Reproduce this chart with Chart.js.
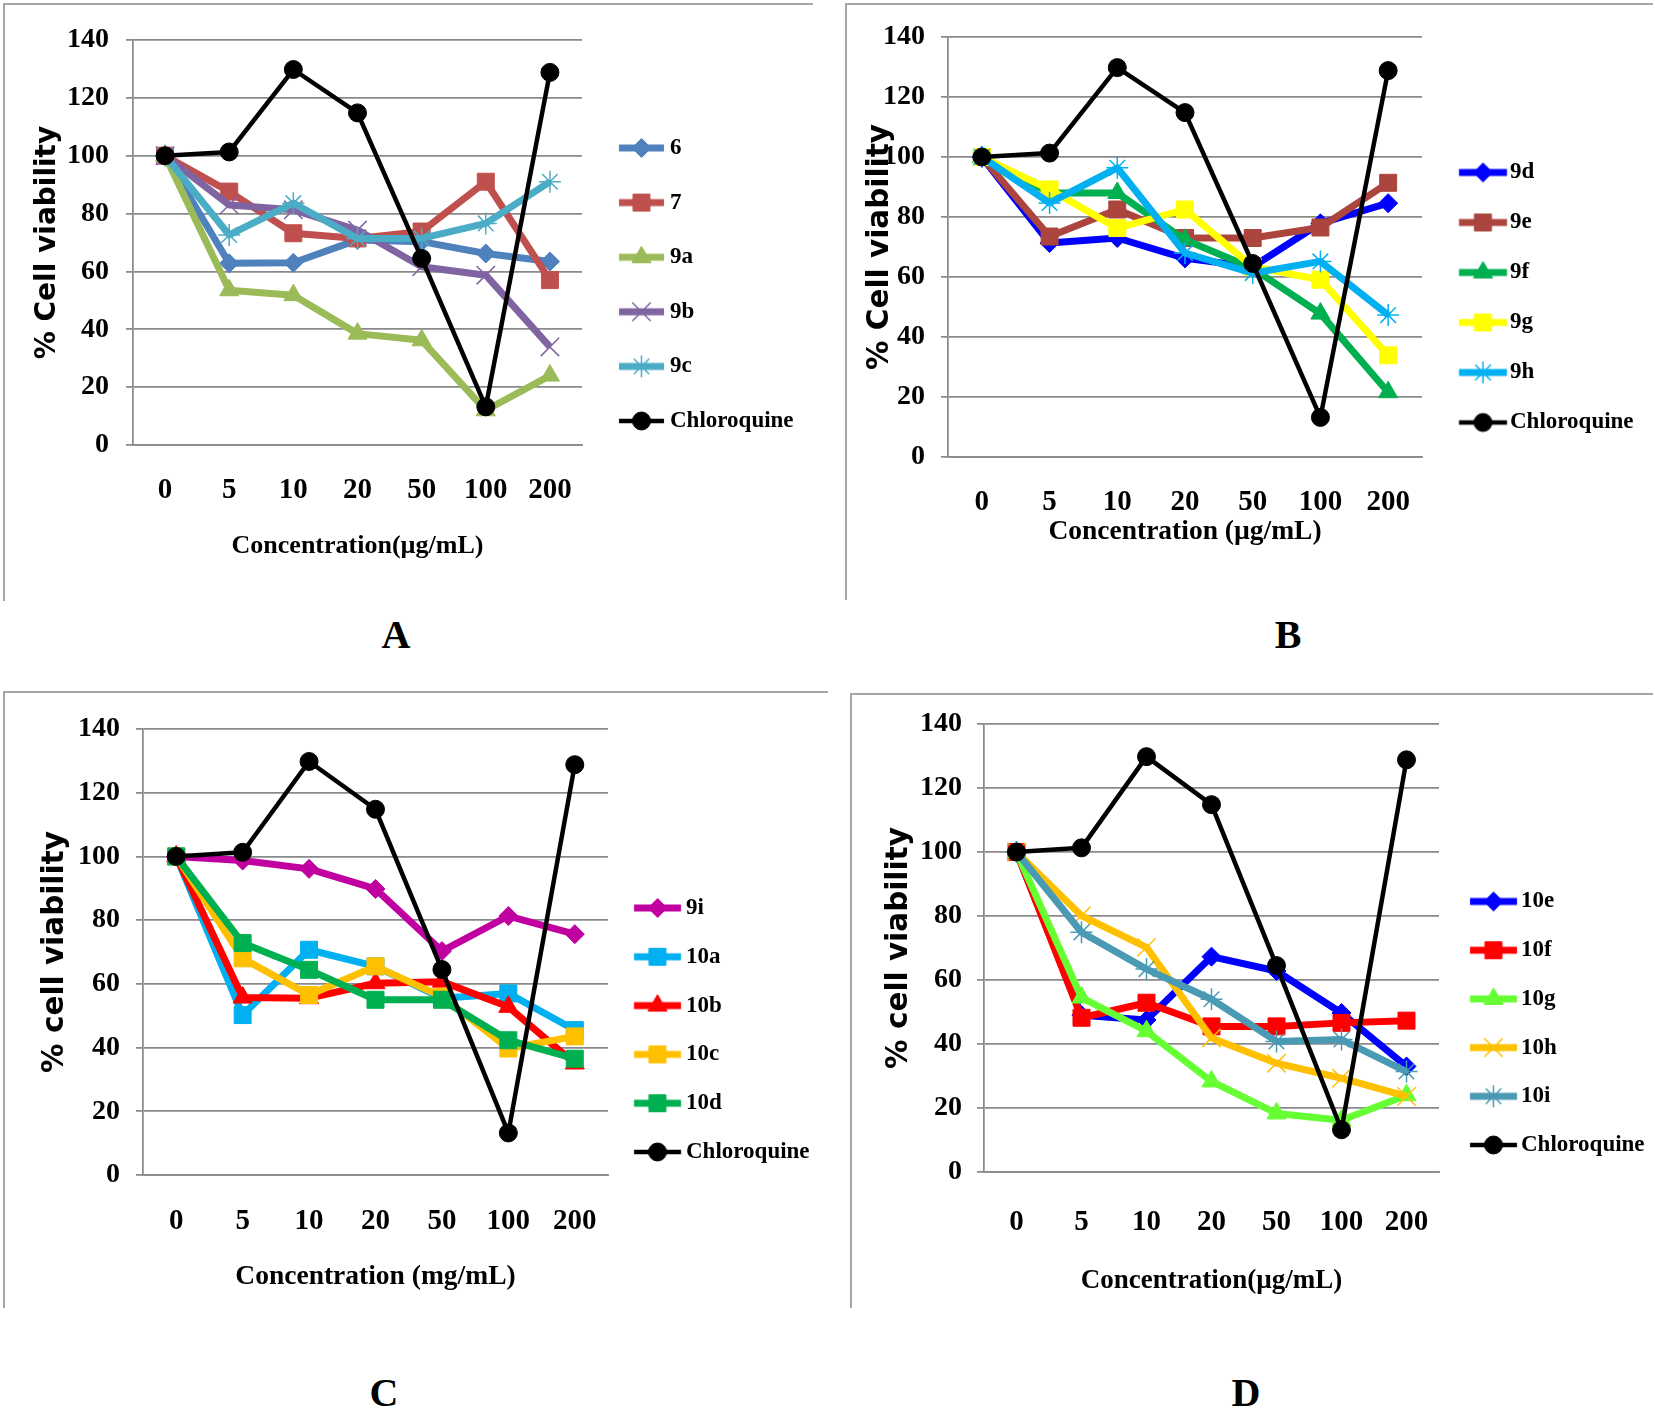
<!DOCTYPE html>
<html>
<head>
<meta charset="utf-8">
<script src="https://cdn.jsdelivr.net/npm/chart.js@4.4.1/dist/chart.umd.min.js"></script>
<style>
    html, body { margin: 0; padding: 0; background: #fff; }
    #page { position: relative; width: 1655px; height: 1410px; overflow: hidden; background: #fff; }
    .frame { position: absolute; border-top: 2px solid #a6a6a6; border-left: 2px solid #a6a6a6; }
    canvas { position: absolute; }
    .letter { position: absolute; width: 80px; margin-left: -40px; margin-top: -22px; text-align: center;
              font: bold 40px "Liberation Serif", "Times New Roman", serif; line-height: 44px; color: #000; }
</style>
</head>
<body>
<div id="page"></div>
<script>
// categories and y ticks shared by all four panels
const concentrations = ['0', '5', '10', '20', '50', '100', '200'];
const viabilityTicks = [0, 20, 40, 60, 80, 100, 120, 140];

// reference drug, same curve in every panel
const chloroquine = [100, 101.3, 129.8, 114.8, 64.5, 13.2, 128.8];

// panel A
const c6 = [100, 62.8, 63, 70.9, 70.3, 66.2, 63.4];
const c7 = [100, 87.6, 73.2, 71.4, 73.8, 91, 57];
const c9a = [100, 53.5, 51.8, 38.5, 36.2, 12, 24];
const c9b = [100, 83, 81.3, 74.3, 61.6, 58.7, 33.9];
const c9c = [100, 72.6, 83.6, 71.4, 71.4, 76.6, 91];

// panel B
const c9d = [100, 71.3, 73, 66.2, 63.4, 77.9, 84.6];
const c9e = [100, 73.5, 82.5, 73, 73, 76.5, 91.4];
const c9f = [100, 88, 88, 72.4, 62.9, 47.8, 21.6];
const c9g = [100, 89.2, 76.3, 82.5, 63.4, 59.1, 33.9];
const c9h = [100, 84.7, 96.4, 68, 61.3, 65.2, 47.3];

// panel C
const c9i = [100, 98.7, 96.1, 89.8, 70.3, 81.3, 75.6];
const c10a = [100, 50.2, 70.7, 65.5, 55.5, 57, 45.5];
const c10b = [100, 55.7, 55.5, 60.2, 60.7, 52.8, 35];
const c10c = [100, 68, 56.5, 65.5, 56, 39.7, 43.5];
const c10d = [100, 72.8, 64.4, 55, 55, 42.3, 36.5];

// panel D
const c10e = [100, 49, 47.5, 67.3, 62.8, 49.7, 33];
const c10f = [100, 48.2, 52.9, 45.5, 45.5, 46.6, 47.3];
const c10g = [100, 54.5, 44, 28.3, 18.3, 16.2, 24];
const c10h = [100, 80.1, 70.2, 41.9, 34, 29.3, 23.6];
const c10i = [100, 74.9, 63.4, 54, 40.8, 41.4, 31.4];

const SERIF = '"Liberation Serif", "Times New Roman", serif';
const SANS = '"DejaVu Sans", "Liberation Sans", sans-serif';
const GRID = '#8a8a8a';
const MARKER_R = { rectRot: 9.5, rect: 12, triangle: 11, crossRot: 13, star: 11, circle: 9 };
const THIN = ['crossRot', 'star'];
const LEGEND_FONT = 23;

const panels = [
    {
        letter: 'A', letterPos: { x: 396, y: 635 },
        series: [
            ['6', c6, '#4F81BD', 'rectRot'],
            ['7', c7, '#C0504D', 'rect'],
            ['9a', c9a, '#9BBB59', 'triangle'],
            ['9b', c9b, '#8064A2', 'crossRot'],
            ['9c', c9c, '#4BACC6', 'star'],
            ['Chloroquine', chloroquine, '#000000', 'circle']
        ],
        xTitle: 'Concentration(µg/mL)', xTitleSize: 26,
        yTitle: '% Cell viability', yTitleSize: 28,
        frame: { x: 4, y: 4, w: 808, h: 596 }, canvasW: 826,
        plot: { left: 133, right: 582, top: 40, bottom: 445 },
        yTickRight: 109, yTitleX: 48, xTickY: 491, xTitleY: 546,
        legend: { firstY: 148, step: 54.6, symL: 619, symR: 664, textX: 670 }
    },
    {
        letter: 'B', letterPos: { x: 1288, y: 635 },
        series: [
            ['9d', c9d, '#0000FF', 'rectRot'],
            ['9e', c9e, '#AD453F', 'rect'],
            ['9f', c9f, '#00B050', 'triangle'],
            ['9g', c9g, '#FFFF00', 'rect'],
            ['9h', c9h, '#00B0F0', 'star'],
            ['Chloroquine', chloroquine, '#000000', 'circle']
        ],
        xTitle: 'Concentration (µg/mL)', xTitleSize: 27.5,
        yTitle: '% Cell viability', yTitleSize: 29.5,
        frame: { x: 846, y: 4, w: 806, h: 595 }, canvasW: 809,
        plot: { left: 948, right: 1422, top: 37, bottom: 457 },
        yTickRight: 925, yTitleX: 880, xTickY: 503, xTitleY: 532,
        legend: { firstY: 172.5, step: 50, symL: 1459, symR: 1507, textX: 1510 }
    },
    {
        letter: 'C', letterPos: { x: 384, y: 1393 },
        series: [
            ['9i', c9i, '#C000A0', 'rectRot'],
            ['10a', c10a, '#00B0F0', 'rect'],
            ['10b', c10b, '#FF0000', 'triangle'],
            ['10c', c10c, '#FFC000', 'rect'],
            ['10d', c10d, '#00B050', 'rect'],
            ['Chloroquine', chloroquine, '#000000', 'circle']
        ],
        xTitle: 'Concentration (mg/mL)', xTitleSize: 27.5,
        yTitle: '% cell viability', yTitleSize: 29.5,
        frame: { x: 4, y: 692, w: 823, h: 615 }, canvasW: 830,
        plot: { left: 143, right: 608, top: 729, bottom: 1175 },
        yTickRight: 120, yTitleX: 55, xTickY: 1222, xTitleY: 1277,
        legend: { firstY: 908, step: 48.8, symL: 634, symR: 681, textX: 686 }
    },
    {
        letter: 'D', letterPos: { x: 1246, y: 1393 },
        series: [
            ['10e', c10e, '#0000FF', 'rectRot'],
            ['10f', c10f, '#FF0000', 'rect'],
            ['10g', c10g, '#66FF33', 'triangle'],
            ['10h', c10h, '#FFC000', 'crossRot'],
            ['10i', c10i, '#4A9AB4', 'star'],
            ['Chloroquine', chloroquine, '#000000', 'circle']
        ],
        xTitle: 'Concentration(µg/mL)', xTitleSize: 27,
        yTitle: '% cell viability', yTitleSize: 29.5,
        frame: { x: 851, y: 694, w: 801, h: 613 }, canvasW: 804,
        plot: { left: 984, right: 1439, top: 724, bottom: 1172 },
        yTickRight: 962, yTitleX: 899, xTickY: 1223, xTitleY: 1281,
        legend: { firstY: 901.5, step: 48.7, symL: 1470, symR: 1517, textX: 1521 }
    }
];

const page = document.getElementById('page');
const measureCtx = document.createElement('canvas').getContext('2d');

function lineWidthFor (label) {
    return label === 'Chloroquine' ? 4.5 : 7;
}

// legend symbol: short thick line with the marker in the middle, like the spreadsheet legend
function makeIcon (label, color, marker, halfW, lineFrom, lineTo) {
    const c = document.createElement('canvas');
    c.width = halfW * 2;
    c.height = 32;
    const ctx = c.getContext('2d');
    ctx.strokeStyle = color;
    ctx.fillStyle = color;
    ctx.lineWidth = lineWidthFor(label);
    ctx.beginPath();
    ctx.moveTo(lineFrom, 16);
    ctx.lineTo(lineTo, 16);
    ctx.stroke();

    const thin = THIN.includes(marker);
    ctx.lineWidth = thin ? 1.5 : 1;
    const mid = (lineFrom + lineTo) / 2;
    if (Chart.helpers && Chart.helpers.drawPoint) {
        Chart.helpers.drawPoint(ctx, { pointStyle: marker, radius: MARKER_R[marker], rotation: 0, borderWidth: ctx.lineWidth }, mid, 16);
    } else {
        ctx.beginPath();
        ctx.arc(mid, 16, 8, 0, Math.PI * 2);
        ctx.fill();
    }
    return c;
}

function drawPanel (p) {
    const f = p.frame;
    const a = p.plot;
    const lg = p.legend;

    const frame = document.createElement('div');
    frame.className = 'frame';
    Object.assign(frame.style, { left: (f.x - 1) + 'px', top: (f.y - 1) + 'px', width: f.w + 'px', height: f.h + 'px' });
    page.appendChild(frame);

    const letter = document.createElement('div');
    letter.className = 'letter';
    letter.textContent = p.letter;
    Object.assign(letter.style, { left: p.letterPos.x + 'px', top: p.letterPos.y + 'px' });
    page.appendChild(letter);

    const canvas = document.createElement('canvas');
    canvas.width = p.canvasW;
    canvas.height = f.h;
    Object.assign(canvas.style, { left: f.x + 'px', top: f.y + 'px' });
    page.appendChild(canvas);

    // axis geometry
    const xTickSize = 29;
    const yTickSize = 28;
    const xAxisHeight = p.xTitleY - a.bottom + p.xTitleSize * 1.2 / 2;
    const yAxisWidth = a.left - f.x;

    // legend geometry: the legend box is as wide as its longest entry, so measure it
    measureCtx.font = 'bold ' + LEGEND_FONT + 'px ' + SERIF;
    const longest = Math.max(...p.series.map(s => measureCtx.measureText(s[0]).width));
    const legendPad = lg.step - LEGEND_FONT;
    const itemX = a.right + legendPad;
    const boxW = lg.textX - itemX - LEGEND_FONT / 2;
    const spacer = lg.firstY - a.top - legendPad - LEGEND_FONT / 2;
    const legendW = legendPad + boxW + LEGEND_FONT / 2 + longest + 10;
    const cx = itemX + boxW / 2;
    const halfW = Math.ceil(Math.max(cx - lg.symL, lg.symR - cx) + 14);
    const icons = p.series.map(s => makeIcon(s[0], s[2], s[3], halfW, lg.symL - cx + halfW, lg.symR - cx + halfW));

    const n = p.series.length;
    const datasets = p.series.map(([label, data, color, marker], i) => ({
        label: label,
        data: data,
        borderColor: color,
        backgroundColor: color,
        borderWidth: lineWidthFor(label),
        borderJoinStyle: 'round',
        pointStyle: marker,
        pointRadius: MARKER_R[marker],
        pointBackgroundColor: color,
        pointBorderColor: color,
        pointBorderWidth: THIN.includes(marker) ? 1.5 : 1,
        tension: 0,
        order: n - i
    }));

    new Chart(canvas, {
        type: 'line',
        data: {
            labels: concentrations,
            datasets: datasets
        },
        options: {
            responsive: false,
            animation: false,
            events: [],
            layout: {
                padding: {
                    left: 0,
                    top: a.top - f.y,
                    right: p.canvasW - (a.right - f.x) - legendW,
                    bottom: f.h - (a.bottom - f.y) - xAxisHeight
                }
            },
            scales: {
                x: {
                    offset: true,
                    grid: { display: false, drawTicks: false },
                    border: { color: GRID, width: 1.75 },
                    ticks: {
                        color: '#000',
                        font: { family: SERIF, size: xTickSize, weight: 'bold' },
                        padding: p.xTickY - a.bottom - xTickSize * 1.2 / 2,
                        maxRotation: 0,
                        autoSkip: false
                    },
                    title: {
                        display: true,
                        text: p.xTitle,
                        color: '#000',
                        font: { family: SERIF, size: p.xTitleSize, weight: 'bold' },
                        padding: { top: 0, bottom: 0 }
                    },
                    afterFit: scale => {
                        scale.height = xAxisHeight;
                        scale.paddingLeft = 0;
                        scale.paddingRight = 0;
                    }
                },
                y: {
                    min: 0,
                    max: 140,
                    afterBuildTicks: scale => {
                        scale.ticks = viabilityTicks.map(v => ({ value: v }));
                    },
                    grid: { color: GRID, lineWidth: 1.75, drawTicks: true, tickLength: 7, tickColor: GRID },
                    border: { color: GRID, width: 1.75 },
                    ticks: {
                        color: '#000',
                        font: { family: SERIF, size: yTickSize, weight: 'bold' },
                        padding: a.left - p.yTickRight - 7
                    },
                    title: {
                        display: true,
                        text: p.yTitle,
                        color: '#000',
                        font: { family: SANS, size: p.yTitleSize, weight: 'bold' },
                        padding: { top: p.yTitleX - f.x - p.yTitleSize * 1.2 / 2, bottom: 0 }
                    },
                    afterFit: scale => {
                        scale.width = yAxisWidth;
                        scale.paddingTop = 0;
                        scale.paddingBottom = 0;
                    }
                }
            },
            plugins: {
                legend: {
                    position: 'right',
                    align: 'start',
                    // default cap is a quarter of the canvas, too narrow for "Chloroquine"
                    maxWidth: legendW + 2,
                    // empty title used only as a spacer above the first entry
                    title: { display: true, text: '', font: { size: 10 }, padding: { top: spacer - 12, bottom: 0 } },
                    labels: {
                        usePointStyle: true,
                        pointStyleWidth: boxW,
                        padding: legendPad,
                        color: '#000',
                        font: { family: SERIF, size: LEGEND_FONT, weight: 'bold' },
                        generateLabels: chart => {
                            const items = Chart.defaults.plugins.legend.labels.generateLabels(chart);
                            items.sort((m, k) => m.datasetIndex - k.datasetIndex);
                            items.forEach(item => {
                                item.pointStyle = icons[item.datasetIndex];
                            });
                            return items;
                        }
                    }
                },
                tooltip: { enabled: false }
            }
        }
    });
}

panels.forEach(drawPanel);
</script>
</body>
</html>
